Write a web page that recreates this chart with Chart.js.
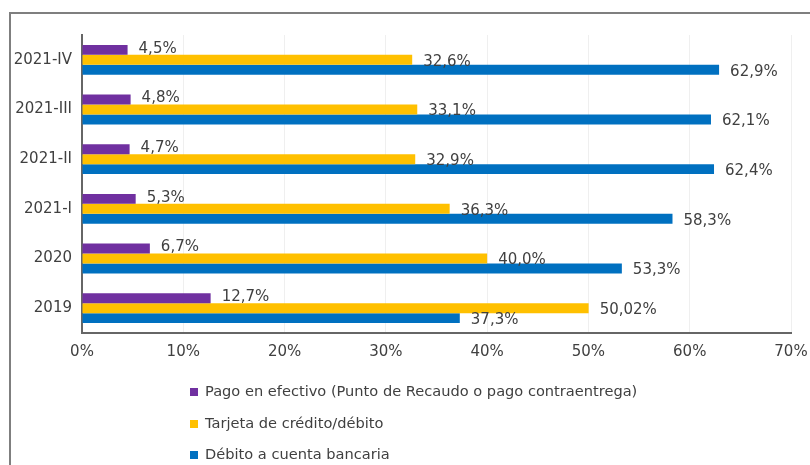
<!DOCTYPE html>
<html>
<head>
<meta charset="utf-8">
<script src="https://cdn.jsdelivr.net/npm/chart.js@4/dist/chart.umd.min.js"></script>
<style>
  html, body { margin: 0; padding: 0; background: #ffffff; }
  #wrap { position: relative; width: 810px; height: 465px; }
  #frame { position: absolute; left: 9px; top: 12px; right: 0; bottom: 0;
           border-top: 2px solid #7f7f7f; border-left: 2px solid #7f7f7f; pointer-events: none; }
  canvas { position: absolute; left: 0; top: 0; }
</style>
</head>
<body>
<div id="wrap">
  <canvas id="c" width="810" height="465"></canvas>
  <div id="frame"></div>
</div>
<script>
const categories = ['2021-IV', '2021-III', '2021-II', '2021-I', '2020', '2019'];
const seriesNames = [
  'Pago en efectivo (Punto de Recaudo o pago contraentrega)',
  'Tarjeta de crédito/débito',
  'Débito a cuenta bancaria'
];
const efectivo = [4.5, 4.8, 4.7, 5.3, 6.7, 12.7];
const tarjeta = [32.6, 33.1, 32.9, 36.3, 40.0, 50.02];
const debito = [62.9, 62.1, 62.4, 58.3, 53.3, 37.3];
const xTicks = [0, 10, 20, 30, 40, 50, 60, 70];

const colors = ['#7030A0', '#FFC000', '#0070C0'];
const textColor = '#404040';
const FONT = '"DejaVu Sans", sans-serif';

function fmt(v) {
  const oneDec = Math.abs(v * 10 - Math.round(v * 10)) < 1e-9;
  return (oneDec ? v.toFixed(1) : v.toFixed(2)).replace('.', ',') + '%';
}

const valueLabels = {
  id: 'valueLabels',
  afterDatasetsDraw(chart) {
    const ctx = chart.ctx;
    const dy = [-1, 2, 2];
    ctx.save();
    ctx.font = '15px ' + FONT;
    ctx.fillStyle = textColor;
    ctx.textAlign = 'left';
    ctx.textBaseline = 'middle';
    chart.data.datasets.forEach((ds, i) => {
      const meta = chart.getDatasetMeta(i);
      meta.data.forEach((el, j) => {
        ctx.fillText(fmt(ds.data[j]), el.x + 11, el.y + dy[i]);
      });
    });
    ctx.restore();
  }
};

const listLegend = {
  id: 'listLegend',
  afterDraw(chart) {
    const ctx = chart.ctx;
    const ys = [392, 424, 455];
    ctx.save();
    ctx.font = '14.6px ' + FONT;
    ctx.textAlign = 'left';
    ctx.textBaseline = 'middle';
    chart.data.datasets.forEach((ds, i) => {
      ctx.fillStyle = ds.backgroundColor;
      ctx.fillRect(190, ys[i] - 4, 8, 8);
      ctx.fillStyle = textColor;
      ctx.fillText(ds.label, 205, ys[i]);
    });
    ctx.restore();
  }
};

new Chart(document.getElementById('c'), {
  type: 'bar',
  data: {
    labels: categories,
    datasets: [
      { label: seriesNames[0], data: efectivo, backgroundColor: colors[0] },
      { label: seriesNames[1], data: tarjeta, backgroundColor: colors[1] },
      { label: seriesNames[2], data: debito, backgroundColor: colors[2] }
    ]
  },
  options: {
    indexAxis: 'y',
    responsive: false,
    animation: false,
    devicePixelRatio: 1,
    layout: { padding: { left: 0, top: 35, right: 19, bottom: 102 } },
    datasets: { bar: { categoryPercentage: 0.6, barPercentage: 1.0 } },
    plugins: {
      legend: { display: false },
      tooltip: { enabled: false }
    },
    scales: {
      x: {
        min: 0, max: 70,
        afterBuildTicks(scale) { scale.ticks = xTicks.map(v => ({ value: v })); },
        afterFit(scale) { scale.height = 30; scale.paddingLeft = 0; scale.paddingRight = 0; },
        ticks: {
          color: textColor, padding: 10,
          font: { family: FONT, size: 15 },
          callback: v => v + '%'
        },
        grid: { color: '#efefef', lineWidth: 1, drawTicks: false },
        border: { display: true, color: '#666666', width: 2 }
      },
      y: {
        afterFit(scale) { scale.width = 82; scale.paddingTop = 0; scale.paddingBottom = 0; },
        ticks: { color: textColor, padding: 10, font: { family: FONT, size: 15 } },
        grid: { display: false, drawTicks: false },
        border: { display: true, color: '#666666', width: 2 }
      }
    }
  },
  plugins: [valueLabels, listLegend]
});
</script>
</body>
</html>
